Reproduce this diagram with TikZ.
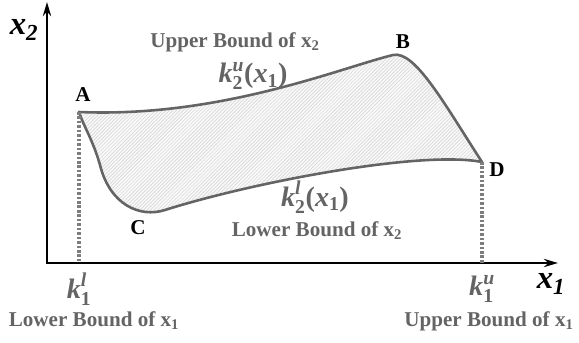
\documentclass[tikz,border=0pt]{standalone}
\usepackage{amsmath,fontspec}
\setmainfont{Liberation Serif}
\usetikzlibrary{arrows.meta,patterns}
\definecolor{boundgray}{RGB}{100,100,100}
\definecolor{dotgray}{RGB}{125,125,125}
\newcommand{\bi}[1]{\textbf{\textit{#1}}}
\newcommand{\bup}[1]{\textbf{#1}}
\tikzset{
    axis/.style={
        line width=2.4pt,
        {Stealth[length=12pt,width=7pt]}-{Stealth[length=12pt,width=7pt]}
    },
    bound/.style={
        dotgray,
        line width=2.6pt,
        dash pattern=on 2.2pt off 1.6pt
    },
    region/.style={
        boundgray,
        line width=2.2pt,
        line join=round,
        pattern=north east lines,
        pattern color=gray!35,
        preaction={fill=gray!5}
    },
    ptlabel/.style={font=\fontsize{18}{20}\selectfont\bfseries},
    graytext/.style={boundgray, inner sep=0pt, font=\fontsize{18}{20}\selectfont\bfseries},
    mathlabel/.style={boundgray, inner sep=0pt, font=\fontsize{24}{26}\selectfont},
    axislabel/.style={font=\fontsize{28}{30}\selectfont\bfseries\itshape}
}

\begin{document}
\begin{tikzpicture}[x=0.03cm, y=-0.03cm]
    \useasboundingbox (0,0) rectangle (579,343);

    % axes
    \coordinate (O) at (47,263);
    \coordinate (xend) at (558,263);
    \coordinate (yend) at (47,2);
    \draw[axis] (yend) -- (O) -- (xend);
    \node[axislabel] (x1) at (551,284) {x\textsubscript{1}};
    \node[axislabel] (x2) at (24,30) {x\textsubscript{2}};

    % corner points of the region
    \coordinate (pA) at (79,112);
    \coordinate (pB) at (393,55);
    \coordinate (pC) at (165,210);
    \coordinate (pD) at (482,162);
    \coordinate (pE) at (100,165);

    \draw[region] (pA) .. controls (220,118) and (340,68) .. (pB)
        .. controls (415,50) and (445,105) .. (pD)
        .. controls (420,150) and (250,183) .. (pC)
        .. controls (140,218) and (110,205) .. (pE)
        .. controls (93,140) and (83,125) .. cycle;

    % bounds of x1
    \coordinate (kl) at (79,263);
    \coordinate (ku) at (482,263);
    \draw[bound] (pA) -- (kl);
    \draw[bound] (pD) -- (ku);

    \node[ptlabel] (lA) at (83,95) {A};
    \node[ptlabel] (lB) at (403,42) {B};
    \node[ptlabel] (lC) at (138,228) {C};
    \node[ptlabel] (lD) at (497,170) {D};

    \node[graytext] (ubx2) at (235,42) {Upper Bound of x\textsubscript{2}};
    \node[mathlabel] (k2u) at (253,76) {$\bi{k}_{\bup{2}}^{\bi{u}}\bup{(}\bi{x}_{\bup{1}}\bup{)}$};
    \node[mathlabel] (k2l) at (315,197) {$\bi{k}_{\bup{2}}^{\bi{l}}\bup{(}\bi{x}_{\bup{1}}\bup{)}$};
    \node[graytext] (lbx2) at (317,231) {Lower Bound of x\textsubscript{2}};

    \node[mathlabel] (k1l) at (79,289) {$\bi{k}_{\bup{1}}^{\bi{l}}$};
    \node[graytext] (lbx1) at (94,321) {Lower Bound of x\textsubscript{1}};
    \node[mathlabel] (k1u) at (482,289) {$\bi{k}_{\bup{1}}^{\bi{u}}$};
    \node[graytext] (ubx1) at (489,321) {Upper Bound of x\textsubscript{1}};
\end{tikzpicture}
\end{document}
